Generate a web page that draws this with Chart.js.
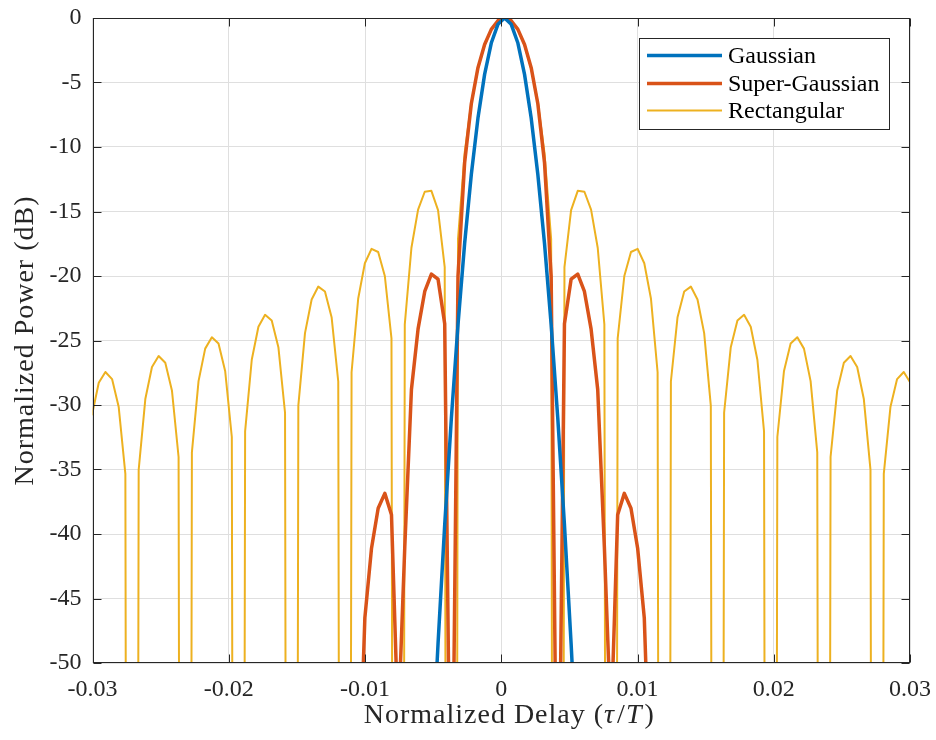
<!DOCTYPE html>
<html>
<head>
<meta charset="utf-8">
<script src="https://cdn.jsdelivr.net/npm/chart.js@4.4.1/dist/chart.umd.min.js"></script>
<style>
  html, body { margin: 0; padding: 0; background: #fff; }
  #wrap { width: 936px; height: 740px; }
</style>
</head>
<body>
<div id="wrap"><canvas id="chart" width="936" height="740"></canvas></div>
<script>
// normalized delay samples (tau/T)
const tau = [
  -0.030029, -0.029541, -0.029053, -0.028564, -0.028076, -0.027588, -0.027100, -0.026611,
  -0.026123, -0.025635, -0.025146, -0.024658, -0.024170, -0.023682, -0.023193, -0.022705,
  -0.022217, -0.021729, -0.021240, -0.020752, -0.020264, -0.019775, -0.019287, -0.018799,
  -0.018311, -0.017822, -0.017334, -0.016846, -0.016357, -0.015869, -0.015381, -0.014893,
  -0.014404, -0.013916, -0.013428, -0.012939, -0.012451, -0.011963, -0.011475, -0.010986,
  -0.010498, -0.010010, -0.009521, -0.009033, -0.008545, -0.008057, -0.007568, -0.007080,
  -0.006592, -0.006104, -0.005615, -0.005127, -0.004639, -0.004150, -0.003662, -0.003174,
  -0.002686, -0.002197, -0.001709, -0.001221, -0.000732, -0.000244,
  0.000244, 0.000732, 0.001221, 0.001709, 0.002197, 0.002686, 0.003174, 0.003662,
  0.004150, 0.004639, 0.005127, 0.005615, 0.006104, 0.006592, 0.007080, 0.007568,
  0.008057, 0.008545, 0.009033, 0.009521, 0.010010, 0.010498, 0.010986, 0.011475,
  0.011963, 0.012451, 0.012939, 0.013428, 0.013916, 0.014404, 0.014893, 0.015381,
  0.015869, 0.016357, 0.016846, 0.017334, 0.017822, 0.018311, 0.018799, 0.019287,
  0.019775, 0.020264, 0.020752, 0.021240, 0.021729, 0.022217, 0.022705, 0.023193,
  0.023682, 0.024170, 0.024658, 0.025146, 0.025635, 0.026123, 0.026611, 0.027100,
  0.027588, 0.028076, 0.028564, 0.029053, 0.029541, 0.030029
];

// Rectangular pulse, dB (one value per tau sample, -300 = deep null)
const rectPower = [
  -30.74, -28.28, -27.44, -27.99, -30.16, -35.34, -300, -35.03,
  -29.54, -27.05, -26.20, -26.72, -28.87, -34.03, -300, -33.67,
  -28.15, -25.63, -24.75, -25.24, -27.36, -32.48, -300, -32.05,
  -26.49, -23.93, -23.01, -23.45, -25.52, -30.60, -300, -30.05,
  -24.43, -21.82, -20.82, -21.20, -23.19, -28.18, -300, -27.46,
  -21.74, -19.01, -17.90, -18.14, -20.00, -24.83, -300, -23.75,
  -17.81, -14.85, -13.47, -13.40, -14.89, -19.31, -300, -17.13,
  -10.46, -6.55, -3.92, -2.11, -0.91, -0.22,
  0, -0.22, -0.91, -2.11, -3.92, -6.55, -10.46, -17.13,
  -300, -19.31, -14.89, -13.40, -13.47, -14.85, -17.81, -23.75,
  -300, -24.83, -20.00, -18.14, -17.90, -19.01, -21.74, -27.46,
  -300, -28.18, -23.19, -21.20, -20.82, -21.82, -24.43, -30.05,
  -300, -30.60, -25.52, -23.45, -23.01, -23.93, -26.49, -32.05,
  -300, -32.48, -27.36, -25.24, -24.75, -25.63, -28.15, -33.67,
  -300, -34.03, -28.87, -26.72, -26.20, -27.05, -29.54, -35.03,
  -300, -35.34, -30.16, -27.99, -27.44, -28.28
];

// Super-Gaussian pulse, dB, starts at tau[sgStart]
const sgStart = 40;
const superGaussPower = [
  -62, -46.5, -41.1, -38.0, -36.85, -38.5, -55, -41,
  -28.8, -24.1, -21.2, -19.85, -20.25, -23.7, -70, -20.0,
  -11.2, -6.65, -3.85, -2.05, -0.88, -0.21,
  0, -0.21, -0.88, -2.05, -3.85, -6.65, -11.2, -20.0,
  -70, -23.7, -20.25, -19.85, -21.2, -24.1, -28.8, -41,
  -55, -38.5, -36.85, -38.0, -41.1, -46.5, -62
];

// Gaussian pulse, dB, starts at tau[gaussStart]
const gaussStart = 51;
const gaussPower = [
  -58.69, -48.5, -39.29, -31.04, -23.77, -17.46, -12.13, -7.76, -4.37, -1.94, -0.49,
  0, -0.49, -1.94, -4.37, -7.76, -12.13, -17.46, -23.77, -31.04, -39.29, -48.5, -58.69
];

const seriesNames = ["Gaussian", "Super-Gaussian", "Rectangular"];
const xTicks = [-0.03, -0.02, -0.01, 0, 0.01, 0.02, 0.03];
const yTicks = [-50, -45, -40, -35, -30, -25, -20, -15, -10, -5, 0];

const toPoints = (values, start) => values.map((y, i) => ({ x: tau[start + i], y: y }));

const FONT = "'Liberation Serif', 'Times New Roman', serif";
const INK = "#262626";

// box, inward tick marks, legend and axis titles drawn like MATLAB
const axesBox = {
  id: "axesBox",
  afterDatasetsDraw(chart) {
    const { ctx, chartArea: a, scales } = chart;
    const L = Math.round(a.left) + 0.5, R = Math.round(a.right) - 0.5;
    const T = Math.round(a.top) + 0.5, B = Math.round(a.bottom) - 0.5;
    const tickLen = 8;
    ctx.save();
    ctx.strokeStyle = INK;
    ctx.lineWidth = 1;
    ctx.beginPath();
    xTicks.forEach(v => {
      const px = Math.round(scales.x.getPixelForValue(v)) + 0.5;
      ctx.moveTo(px, B); ctx.lineTo(px, B - tickLen);
      ctx.moveTo(px, T); ctx.lineTo(px, T + tickLen);
    });
    yTicks.forEach(v => {
      const py = Math.round(scales.y.getPixelForValue(v)) + 0.5;
      ctx.moveTo(L, py); ctx.lineTo(L + tickLen, py);
      ctx.moveTo(R, py); ctx.lineTo(R - tickLen, py);
    });
    ctx.stroke();
    ctx.strokeRect(L, T, R - L, B - T);

    // legend
    const lx = 639.5, ly = 38.5, lw = 250, lh = 91;
    ctx.fillStyle = "#fff";
    ctx.fillRect(lx, ly, lw, lh);
    ctx.strokeStyle = INK;
    ctx.strokeRect(lx, ly, lw, lh);
    const rows = [55.5, 83.5, 110.5];
    ctx.font = "24px " + FONT;
    ctx.textBaseline = "middle";
    ctx.textAlign = "left";
    chart.data.datasets.forEach((ds, i) => {
      ctx.strokeStyle = ds.borderColor;
      ctx.lineWidth = ds.borderWidth;
      ctx.beginPath();
      ctx.moveTo(647, rows[i]); ctx.lineTo(722, rows[i]);
      ctx.stroke();
      ctx.fillStyle = "#000";
      ctx.fillText(ds.label, 728, rows[i] + 1);
    });

    // x title with italic tau/T
    const parts = [["Normalized Delay (", ""], ["\u03C4", "italic "], ["/", ""], ["T", "italic "], [")", ""]];
    const size = 28;
    ctx.letterSpacing = "1px";
    let total = 0;
    parts.forEach(p => { ctx.font = p[1] + size + "px " + FONT; total += ctx.measureText(p[0]).width; });
    let x = (a.left + a.right) / 2 + 6 - total / 2;
    ctx.fillStyle = INK;
    ctx.textBaseline = "alphabetic";
    parts.forEach(p => {
      ctx.font = p[1] + size + "px " + FONT;
      ctx.fillText(p[0], x, 723);
      x += ctx.measureText(p[0]).width + (p[1] ? 2 : 0);
    });

    // y title
    ctx.save();
    ctx.translate(33, (a.top + a.bottom) / 2);
    ctx.rotate(-Math.PI / 2);
    ctx.font = size + "px " + FONT;
    ctx.textAlign = "center";
    ctx.fillText("Normalized Power (dB)", 0, 0);
    ctx.restore();
    ctx.restore();
  }
};

const fmt = v => {
  const r = Math.round(v * 100) / 100;
  return r === 0 ? "0" : String(r);
};

new Chart(document.getElementById("chart"), {
  type: "line",
  data: {
    datasets: [
      { label: seriesNames[0], data: toPoints(gaussPower, gaussStart), borderColor: "#0072BD", borderWidth: 3.5 },
      { label: seriesNames[1], data: toPoints(superGaussPower, sgStart), borderColor: "#D95319", borderWidth: 3.5 },
      { label: seriesNames[2], data: toPoints(rectPower, 0), borderColor: "#EDB120", borderWidth: 2 }
    ]
  },
  options: {
    responsive: false,
    animation: false,
    devicePixelRatio: 1,
    layout: { padding: { top: 18, right: 26, bottom: 0, left: 0 } },
    elements: {
      point: { radius: 0 },
      line: { tension: 0, fill: false, borderJoinStyle: "round", borderCapStyle: "round" }
    },
    datasets: { line: { clip: 0 } },
    plugins: { legend: { display: false }, tooltip: { enabled: false } },
    scales: {
      x: {
        type: "linear",
        min: -0.03, max: 0.03,
        afterBuildTicks: s => { s.ticks = xTicks.map(v => ({ value: v })); },
        afterFit: s => { s.height = 77; s.paddingLeft = 0; s.paddingRight = 0; },
        grid: { color: "#dfdfdf", drawTicks: false },
        border: { display: false },
        ticks: { autoSkip: false, maxRotation: 0, padding: 12, color: INK, font: { family: FONT, size: 24 }, callback: fmt }
      },
      y: {
        type: "linear",
        min: -50, max: 0,
        afterBuildTicks: s => { s.ticks = yTicks.map(v => ({ value: v })); },
        afterFit: s => { s.width = 92.5; s.paddingTop = 0; s.paddingBottom = 0; },
        grid: { color: "#dfdfdf", drawTicks: false },
        border: { display: false },
        ticks: { padding: 11, color: INK, font: { family: FONT, size: 24 }, callback: fmt }
      }
    }
  },
  plugins: [axesBox]
});
</script>
</body>
</html>
